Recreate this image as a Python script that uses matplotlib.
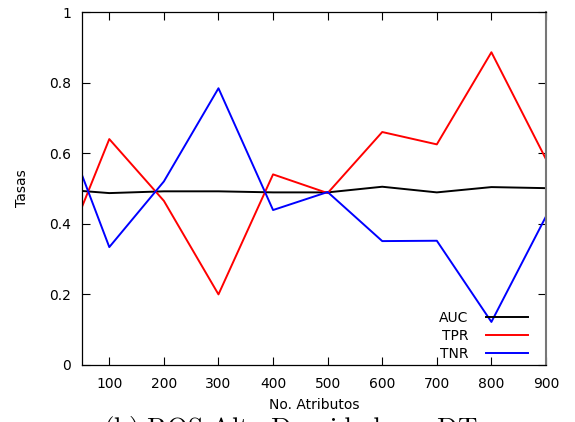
import numpy as np
import matplotlib.pyplot as plt

# Number of attributes vs. rates
atributos = [50, 100, 200, 300, 400, 500, 600, 700, 800, 900]
auc = [0.493, 0.487, 0.492, 0.492, 0.489, 0.489, 0.505, 0.489, 0.504, 0.501]
tpr = [0.448, 0.640, 0.465, 0.200, 0.540, 0.487, 0.660, 0.625, 0.886, 0.583]
tnr = [0.538, 0.334, 0.520, 0.784, 0.439, 0.490, 0.351, 0.352, 0.122, 0.421]

xticks = [100, 200, 300, 400, 500, 600, 700, 800, 900]
yticks = [0, 0.2, 0.4, 0.6, 0.8, 1]

plt.rcParams['mathtext.fontset'] = 'cm'

fig = plt.figure(figsize=(5.75, 4.22), dpi=100)
ax = fig.add_axes([82 / 575, 1 - 365 / 422, 464 / 575, 353 / 422])

ax.plot(atributos, auc, color='black', lw=1.4, label='AUC')
ax.plot(atributos, tpr, color='#ff0000', lw=1.4, label='TPR')
ax.plot(atributos, tnr, color='#0000ff', lw=1.4, label='TNR')

ax.set_xlim(50, 900)
ax.set_ylim(0, 1)
ax.set_xticks(xticks)
ax.set_yticks(yticks)
ax.set_yticklabels(['0', '0.2', '0.4', '0.6', '0.8', '1'])
ax.tick_params(direction='in', length=6, width=0.8, top=True, right=True,
               labelsize=10, pad=8)
ax.tick_params(axis='x', pad=9)
for s in ['left', 'bottom', 'top']:
    ax.spines[s].set_linewidth(0.9)
ax.spines['right'].set_color('#777777')
ax.spines['right'].set_linewidth(1.5)

ax.set_xlabel('No. Atributos', fontsize=10, labelpad=5)
ax.set_ylabel('Tasas', fontsize=10, labelpad=14)

leg = ax.legend(loc='lower right', bbox_to_anchor=(0.961, 0.012),
                frameon=False, fontsize=10, markerfirst=False,
                handlelength=3.0, handletextpad=1.3, labelspacing=0.27,
                borderpad=0, borderaxespad=0)
for t in leg.get_texts():
    t.set_ha('right')

fig.text(103 / 575, 1 - 436 / 422,
         r'$\mathrm{(b)\ ROS\ Alta\ Densidad\ con\ DT}$',
         fontsize=19.5, ha='left', va='baseline')

fig.savefig('out.png', dpi=100)
